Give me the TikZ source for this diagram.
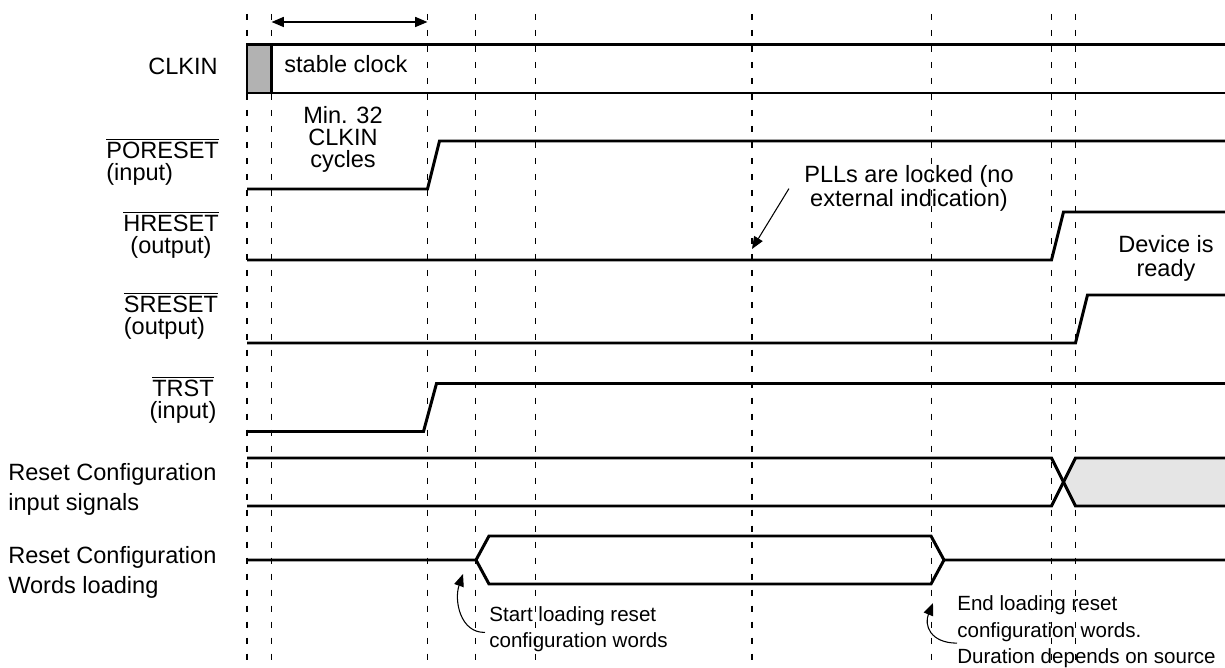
\documentclass[tikz,border=0pt]{standalone}
\usepackage{fontspec}
\setmainfont{Liberation Sans}
\usetikzlibrary{arrows.meta}

\begin{document}
\begin{tikzpicture}[x=0.02cm, y=-0.02cm,
		sig/.style={line width=1.7pt},
		guide/.style={line width=0.6pt, dash pattern=on 3.7pt off 5.4pt},
		lbl/.style={inner sep=0pt, font=\fontsize{13.4}{12.8}\selectfont},
		cfg/.style={inner sep=0pt, align=left, font=\fontsize{13.4}{17.6}\selectfont},
		note/.style={inner sep=0pt, font=\fontsize{13.4}{14}\selectfont},
		smallnote/.style={inner sep=0pt, align=left, font=\fontsize{11.7}{15.1}\selectfont},
		pointer/.style={line width=0.6pt, -{Triangle[length=7pt,width=5.6pt]}}]
		\useasboundingbox (0,0) rectangle (1225,668);
		
		% Draw the time marks
		\foreach \gx [count=\i] in {247,271.5,427.5,475.5,535.5,752,931.5,1051.5,1075.5}
			\draw[guide] (\gx,14) coordinate (g\i) -- (\gx,668);
		
		\draw[line width=1.1pt, {Triangle[length=7pt,width=5.6pt]}-{Triangle[length=7pt,width=5.6pt]}] (g2 |- 0,22) -- (g3 |- 0,22);
		
		% Draw the signals
		\fill[black!30] (247,45) rectangle (271.5,93);
		\draw[sig] (1225,45) -- (247,45) -- (247,93) -- (1225,93);
		\draw[sig] (271.5,45) -- (271.5,93);
		
		\draw[sig] (247,189) -- (427.5,189) -- (439.5,141) -- (1225,141);
		\draw[sig] (247,260) -- (1051.5,260) -- (1063.5,212) -- (1225,212);
		\draw[sig] (247,343) -- (1075.5,343) -- (1087.5,295) -- (1225,295);
		\draw[sig] (247,431.5) -- (423.5,431.5) -- (436.5,383.5) -- (1225,383.5);
		
		\fill[black!10] (1063.5,482) -- (1075.5,458) -- (1225,458) -- (1225,506) -- (1075.5,506) -- cycle;
		\draw[sig] (247,458) -- (1051.5,458) -- (1075.5,506) -- (1225,506);
		\draw[sig] (247,506) -- (1051.5,506) -- (1075.5,458) -- (1225,458);
		
		\draw[sig] (247,560) -- (476,560) -- (489,536) -- (931,536) -- (944,560) -- (1225,560);
		\draw[sig] (476,560) -- (489,584) -- (931,584) -- (944,560);
		
		% Draw the labels (base = last line)
		\node[lbl, anchor=base east] (clkin) at (218,75) {CLKIN};
		\node[lbl, align=left, anchor=base west] (poreset) at (106,181) {$\overline{\mbox{PORESET}}$\\(input)};
		\node[lbl, align=center, anchor=base] (hreset) at (171,254) {$\overline{\mbox{HRESET}}$\\(output)};
		\node[lbl, align=left, anchor=base west] (sreset) at (123.5,335) {$\overline{\mbox{SRESET}}$\\(output)};
		\node[lbl, align=center, anchor=base] (trst) at (183,419) {$\overline{\mbox{TRST}}$\\(input)};
		\node[cfg, anchor=base west] (cfgin) at (8,511) {Reset Configuration\\input signals};
		\node[cfg, anchor=base west] (cfgload) at (8,594) {Reset Configuration\\Words loading};
		
		\node[lbl, anchor=base west] (stable) at (284,73) {stable clock};
		\node[lbl, align=center, anchor=base] (mincyc) at (343,168) {Min. 32\\CLKIN\\cycles};
		\node[note, align=center, anchor=base] (pll) at (909,207) {PLLs are locked (no\\external indication)};
		\node[note, align=center, anchor=base] (ready) at (1166,277) {Device is\\ready};
		\node[smallnote, anchor=base west] (startload) at (489,648) {Start loading reset\\configuration words};
		\node[smallnote, anchor=base west] (endload) at (957,664) {End loading reset\\configuration words.\\Duration depends on source};
		
		% Draw the pointers
		\coordinate (pllto) at (752,249);
		\coordinate (startto) at (463,574);
		\coordinate (endto) at (933,603);
		\draw[pointer] ([xshift=-0.3cm]pll.west) -- (pllto);
		\draw[pointer] ([shift={(-0.08cm,-0.06cm)}]startload.west) .. controls (460,633) and (454,600) .. (startto);
		\draw[pointer] ([yshift=-0.22cm]endload.west) .. controls (930,643) and (924,625) .. (endto);
	\end{tikzpicture}
\end{document}
